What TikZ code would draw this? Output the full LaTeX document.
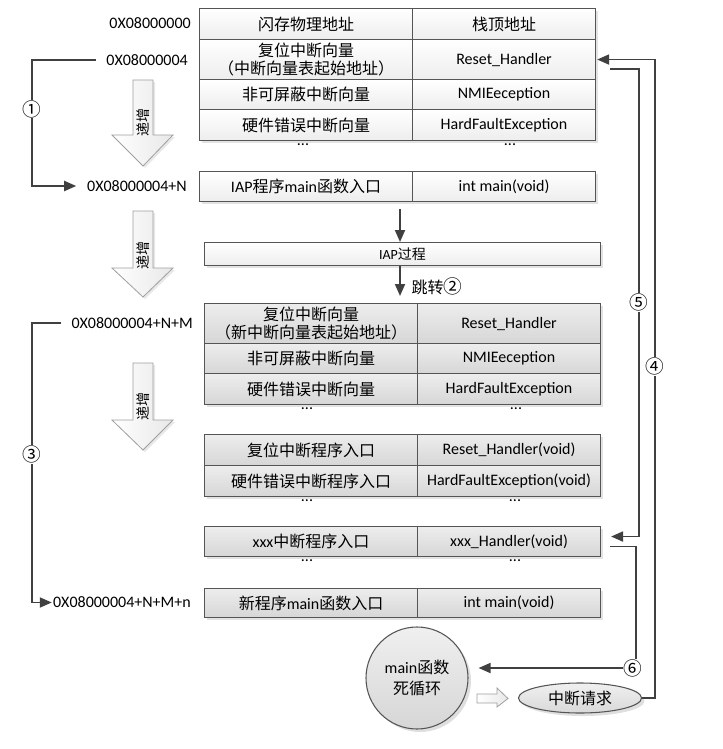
\documentclass[tikz,border=0pt]{standalone}
\usepackage{fontspec}
\setmainfont{Carlito}
\newfontfamily\cjk{Noto Sans CJK SC}
\usetikzlibrary{arrows.meta,shapes.geometric}
\newcommand{\zh}[1]{{\cjk #1}}
\definecolor{bordc}{HTML}{555555}
\definecolor{linec}{HTML}{404040}
\newcommand{\cellnode}[7]{\node[#7, minimum width=#4*0.75pt, minimum height=#5*0.75pt, anchor=north west] (#1) at (#2,#3) {#6};}
\begin{document}
\begin{tikzpicture}[x=0.75pt,y=-0.75pt,
  txt/.style={font=\fontsize{12}{15}\selectfont},
  wcell/.style={txt, draw=bordc, line width=0.8pt, top color=white, bottom color=gray!14, inner sep=0pt, align=center},
  gcell/.style={wcell, top color=gray!14, bottom color=gray!32},
  addr/.style={txt, anchor=east, inner sep=0pt},
  conn/.style={draw=linec, line width=1.4pt},
  arr/.style={conn, -{Triangle[length=9pt,width=7.5pt]}},
  num/.style={fill=white, inner sep=0.6pt, font=\cjk\fontsize{14}{16}\selectfont},
  blockarr/.style={draw=gray!75, line width=0.6pt, left color=white, right color=gray!18},
  dots/.style={font=\fontsize{12}{1}\selectfont, inner sep=0pt, anchor=north},
  shad/.style={fill=gray!22}
]
\useasboundingbox (0,0) rectangle (722,749);

% ---- block arrows (递增)
\foreach \yt/\yh/\ytip/\ylab/\nm in {80/135/166/122/ba1, 211/268/297/255/ba2, 363/420/450/406/ba3}{
  \fill[gray!18] (135,\yt+2) -- (155,\yt+2) -- (155,\yh+2) -- (175,\yh+2) -- (145,\ytip+2) -- (114,\yh+2) -- (135,\yh+2) -- cycle;
  \draw[blockarr] (133,\yt) -- (153,\yt) -- (153,\yh) -- (173,\yh) -- (143,\ytip) -- (112,\yh) -- (133,\yh) -- cycle;
  \node[rotate=90, inner sep=0pt, font=\cjk\fontsize{10.5}{12}\selectfont] (\nm) at (143,\ylab) {递增};
}

% ---- table 1
\fill[shad] (202,11) rectangle (598,143);
\cellnode{t1a}{199}{8}{213}{31}{\zh{闪存物理地址}}{wcell}
\cellnode{t1b}{412}{8}{183}{31}{\zh{栈顶地址}}{wcell}
\cellnode{t2a}{199}{39}{213}{40}{\zh{复位中断向量}\\[-1pt]\zh{（中断向量表起始地址）}}{wcell}
\cellnode{t2b}{412}{39}{183}{40}{Reset\_Handler}{wcell}
\cellnode{t3a}{199}{79}{213}{30}{\zh{非可屏蔽中断向量}}{wcell}
\cellnode{t3b}{412}{79}{183}{30}{NMIEeception}{wcell}
\cellnode{t4a}{199}{109}{213}{31}{\zh{硬件错误中断向量}}{wcell}
\cellnode{t4b}{412}{109}{183}{31}{HardFaultException}{wcell}
\node[dots] (d1a) at (303,143) {...};
\node[dots] (d1b) at (510,143) {...};

% ---- IAP main
\fill[shad] (202,174) rectangle (598,204);
\cellnode{ma}{199}{171}{213}{30}{IAP\zh{程序}main\zh{函数入口}}{wcell}
\cellnode{mb}{412}{171}{183}{30}{int main(void)}{wcell}

% ---- IAP process
\fill[shad] (207,245) rectangle (603,268);
\cellnode{iap}{204}{242}{396}{23}{\fontsize{10.5}{12}\selectfont IAP\zh{过程}}{wcell}

% ---- table 2 (gray)
\fill[shad] (207,306) rectangle (603,407);
\cellnode{g1a}{204}{303}{213}{40}{\zh{复位中断向量}\\[-1pt]\zh{（新中断向量表起始地址）}}{gcell}
\cellnode{g1b}{417}{303}{183}{40}{Reset\_Handler}{gcell}
\cellnode{g2a}{204}{343}{213}{30}{\zh{非可屏蔽中断向量}}{gcell}
\cellnode{g2b}{417}{343}{183}{30}{NMIEeception}{gcell}
\cellnode{g3a}{204}{373}{213}{31}{\zh{硬件错误中断向量}}{gcell}
\cellnode{g3b}{417}{373}{183}{31}{HardFaultException}{gcell}
\node[dots] (d2a) at (307,407) {...};
\node[dots] (d2b) at (516,407) {...};

% ---- table 3 (gray)
\fill[shad] (207,437) rectangle (603,499);
\cellnode{h1a}{204}{434}{213}{31}{\zh{复位中断程序入口}}{gcell}
\cellnode{h1b}{417}{434}{183}{31}{Reset\_Handler(void)}{gcell}
\cellnode{h2a}{204}{465}{213}{31}{\zh{硬件错误中断程序入口}}{gcell}
\cellnode{h2b}{417}{465}{183}{31}{HardFaultException(void)}{gcell}
\node[dots] (d3a) at (307,499) {...};
\node[dots] (d3b) at (515,499) {...};

% ---- xxx
\fill[shad] (207,529) rectangle (603,559);
\cellnode{xa}{204}{526}{213}{30}{xxx\zh{中断程序入口}}{gcell}
\cellnode{xb}{417}{526}{183}{30}{xxx\_Handler(void)}{gcell}
\node[dots] (d4a) at (307,559) {...};
\node[dots] (d4b) at (515,559) {...};

% ---- new main
\fill[shad] (207,591) rectangle (603,620);
\cellnode{na}{204}{588}{213}{29}{\zh{新程序}main\zh{函数入口}}{gcell}
\cellnode{nb}{417}{588}{183}{29}{int main(void)}{gcell}

% ---- address labels
\node[addr] (l1) at (191,23.5) {0X08000000};
\node[addr] (l2) at (188,60) {0X08000004};
\node[addr] (l3) at (187,186) {0X08000004+N};
\node[addr] (l4) at (193,323) {0X08000004+N+M};
\node[addr] (l5) at (191,602.5) {0X08000004+N+M+n};

% ---- circle and ellipse
\fill[gray!25] (420,681) circle[radius=51*0.75pt];
\node[circle, draw=bordc, line width=0.8pt, top color=gray!12, bottom color=gray!32, minimum size=102*0.75pt, inner sep=0pt, align=center, txt] (loop) at (417,678) {main\zh{函数}\\[1pt]\zh{死循环}};
\fill[gray!25] (583,701) ellipse[x radius=61.5*0.75pt, y radius=15*0.75pt];
\node[ellipse, draw=bordc, line width=0.8pt, top color=gray!12, bottom color=gray!30, minimum width=123*0.75pt, minimum height=30*0.75pt, inner sep=0pt, txt] (irq) at (580,698) {\zh{中断请求}};
\draw[blockarr] (477,694) -- (497,694) -- (497,688) -- (508,698.5) -- (497,707) -- (497,703) -- (477,703) -- cycle;

% ---- connectors
\draw[arr] ([xshift=-7.5pt]l2.west) -| (32,120) |- ([xshift=-8pt]l3.west);
\node[num] (n1) at (32,109) {①};

\draw[arr] ([xshift=-7.5pt]l4.west) -| (32,460) |- ([xshift=-0.8pt]l5.west);
\node[num] (n3) at (32,454) {③};

\coordinate (a1s) at (400,209);
\draw[arr] (a1s) -- (iap.north -| a1s);
\coordinate (j2) at (400,296);
\draw[arr] (iap.south -| j2) -- (j2);
\node[txt, inner sep=0pt] (jl) at (437,286) {\zh{跳转}{\cjk\fontsize{14}{16}\selectfont ②}};

\coordinate (t4) at ([xshift=0.8pt]t2b.east);
\draw[arr] (irq.east) -| (655,366) |- (t4);
\node[num] (n4) at (655,366) {④};

\coordinate (s5) at ([xshift=10.5pt,yshift=-7pt]t2b.east);
\coordinate (t5) at ([xshift=7.5pt,yshift=3.75pt]xb.east);
\draw[arr] (s5) -| (639,300) |- (t5);
\node[num] (n5) at (639,302) {⑤};

\coordinate (s6) at ([xshift=7pt,yshift=-3.75pt]xb.east);
\coordinate (t6) at ([xshift=7.5pt]loop.east |- 0,668);
\draw[arr] (s6) -| (636,655) |- (t6);
\node[num] (n6) at (633,668) {⑥};
\end{tikzpicture}
\end{document}
